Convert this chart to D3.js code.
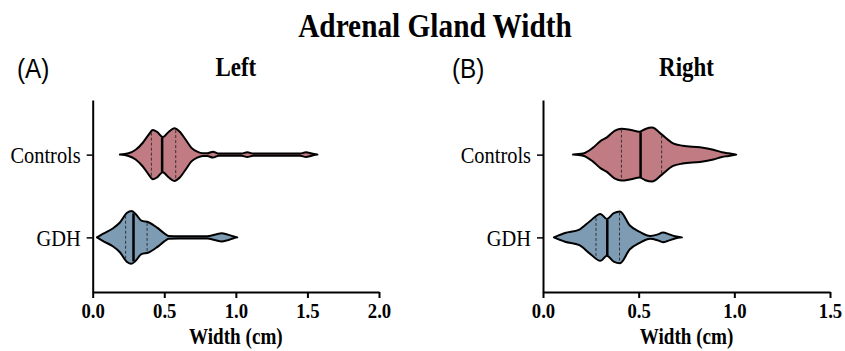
<!DOCTYPE html>
<html>
<head>
<meta charset="utf-8">
<script src="https://cdn.jsdelivr.net/npm/d3@7"></script>
<style>
  body { margin: 0; background: #fff; }
  svg { display: block; }
</style>
</head>
<body>
<div id="chart"></div>
<script>
// groups, top to bottom
var groups = ["Controls", "GDH"];
var groupColors = ["#c07b83", "#7d9cb4"];

// x ticks per panel
var leftTicks = [0.0, 0.5, 1.0, 1.5, 2.0];
var rightTicks = [0.0, 0.5, 1.0, 1.5];

// violin outlines: [width (cm), relative density]
var leftControls = [[0.19,0],[0.25,0.05],[0.30,0.18],[0.35,0.44],[0.39,0.73],[0.42,0.91],[0.45,0.84],[0.49,0.65],[0.53,0.84],[0.57,0.98],[0.61,0.84],[0.65,0.55],[0.69,0.25],[0.73,0.11],[0.77,0.05],[0.80,0.05],[0.84,0.11],[0.88,0.04],[1.04,0.04],[1.08,0.09],[1.12,0.04],[1.45,0.04],[1.49,0.09],[1.53,0.04],[1.57,0]];
var leftGDH = [[0.03,0],[0.07,0.13],[0.14,0.33],[0.19,0.55],[0.24,0.91],[0.27,0.98],[0.30,0.87],[0.34,0.62],[0.39,0.56],[0.45,0.36],[0.50,0.15],[0.53,0.05],[0.60,0.04],[0.80,0.04],[0.86,0.11],[0.90,0.15],[0.94,0.11],[0.98,0.04],[1.01,0]];
var rightControls = [[0.157,0],[0.21,0.04],[0.26,0.25],[0.30,0.50],[0.334,0.64],[0.376,0.89],[0.41,0.96],[0.46,0.91],[0.505,0.85],[0.535,0.95],[0.57,1.0],[0.62,0.75],[0.68,0.42],[0.73,0.33],[0.82,0.27],[0.89,0.18],[0.935,0.09],[0.97,0.05],[1.01,0]];
var rightGDH = [[0.057,0],[0.115,0.16],[0.19,0.29],[0.245,0.6],[0.30,0.87],[0.334,0.68],[0.37,0.9],[0.402,0.96],[0.454,0.44],[0.506,0.2],[0.56,0.05],[0.60,0.11],[0.627,0.18],[0.66,0.11],[0.69,0.04],[0.726,0]];

// quartiles [q1, median, q3]
var leftQuart = [[0.41, 0.485, 0.58], [0.23, 0.285, 0.38]];
var rightQuart = [[0.41, 0.51, 0.62], [0.277, 0.336, 0.40]];

var W = 845, H = 351;
var serif = "'Liberation Serif', 'Times New Roman', serif";
var sans = "'Liberation Sans', Arial, sans-serif";
var squeeze = 0.85; // text in the figure is horizontally condensed

var svg = d3.select("#chart").append("svg")
  .attr("width", W).attr("height", H);

function label(x, y, str, size, opts) {
  opts = opts || {};
  var sx = opts.sx || squeeze;
  return svg.append("text")
    .attr("transform", "translate(" + x + "," + y + ") scale(" + sx + ",1)")
    .attr("text-anchor", opts.anchor || "middle")
    .attr("font-family", opts.family || serif)
    .attr("font-weight", opts.weight || "bold")
    .attr("font-size", size + "px")
    .text(str);
}

// Title
label(435, 37, "Adrenal Gland Width", 34.5);

function drawPanel(opts) {
  var x = d3.scaleLinear().domain(opts.domain).range([opts.left, opts.right]);
  var y = d3.scalePoint().domain(groups).range([100, 292]).padding(0.66);
  var hw = d3.scaleLinear().domain([0, 1]).range([0, 27]);

  // panel letter and heading
  label(opts.letterX, 78, opts.letter, 27, {anchor: "start", family: sans, weight: "normal", sx: 0.9});
  label((opts.left + opts.right) / 2, 76, opts.title, 27);

  // violins
  opts.violins.forEach(function(dens, i) {
    var cy = y(groups[i]);
    var area = d3.area()
      .x(function(d){ return x(d[0]); })
      .y0(function(d){ return cy - hw(d[1]); })
      .y1(function(d){ return cy + hw(d[1]); })
      .curve(d3.curveMonotoneX);
    svg.append("path")
      .datum(dens)
      .attr("d", area)
      .attr("fill", groupColors[i])
      .attr("stroke", "#000")
      .attr("stroke-width", 2)
      .attr("stroke-linejoin", "round");

    // density at a value, by linear lookup in the outline
    function densAt(v) {
      var j = d3.bisector(function(d){ return d[0]; }).left(dens, v);
      if (j <= 0) return dens[0][1];
      if (j >= dens.length) return dens[dens.length - 1][1];
      var a = dens[j - 1], b = dens[j];
      return a[1] + (b[1] - a[1]) * (v - a[0]) / (b[0] - a[0]);
    }

    opts.quart[i].forEach(function(q, k) {
      var h = hw(densAt(q)) - 1;
      svg.append("line")
        .attr("x1", x(q)).attr("x2", x(q))
        .attr("y1", cy - h).attr("y2", cy + h)
        .attr("stroke", k === 1 ? "#000" : "#333")
        .attr("stroke-width", k === 1 ? 2.5 : 1)
        .attr("stroke-dasharray", k === 1 ? null : "3,2");
    });
  });

  // axes
  var xAxis = svg.append("g")
    .attr("transform", "translate(0,292)")
    .call(d3.axisBottom(x).tickValues(opts.ticks).tickSize(6).tickSizeOuter(0)
      .tickFormat(d3.format(".1f")));
  xAxis.select(".domain").attr("stroke-width", 2);
  xAxis.selectAll(".tick line").attr("stroke-width", 2);
  xAxis.selectAll("text")
    .attr("y", 10.5)
    .attr("transform", "scale(" + squeeze + ",1)")
    .attr("font-family", serif).attr("font-weight", "bold")
    .attr("font-size", "22px").attr("fill", "#000");

  var yAxis = svg.append("g")
    .attr("transform", "translate(" + opts.left + ",0)")
    .call(d3.axisLeft(y).tickSize(6).tickSizeOuter(0));
  yAxis.select(".domain").attr("stroke-width", 2);
  yAxis.selectAll(".tick line").attr("stroke-width", 1.5);
  yAxis.selectAll("text")
    .attr("x", -12 / squeeze).attr("dy", "0.34em")
    .attr("transform", "scale(" + squeeze + ",1)")
    .attr("font-family", serif).attr("font-size", "24px").attr("fill", "#000");

  // x label
  label((opts.left + opts.right) / 2, 344, "Width (cm)", 22.5);
}

drawPanel({
  domain: [0, 2], left: 92.7, right: 379, ticks: leftTicks,
  letter: "(A)", letterX: 17, title: "Left",
  violins: [leftControls, leftGDH], quart: leftQuart
});
drawPanel({
  domain: [0, 1.5], left: 543, right: 830, ticks: rightTicks,
  letter: "(B)", letterX: 452, title: "Right",
  violins: [rightControls, rightGDH], quart: rightQuart
});
</script>
</body>
</html>
